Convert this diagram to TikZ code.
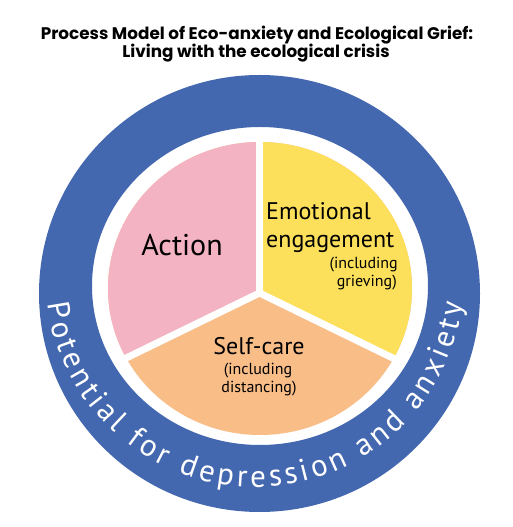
\documentclass[tikz,border=0pt]{standalone}
\usepackage{fontspec}
\setmainfont{PT Sans}
\newfontfamily\titlefont{Poppins}
\newfontfamily\labelfont{PT Sans}
\usetikzlibrary{decorations.text}
\definecolor{ringblue}{HTML}{4468AF}
\definecolor{pinkfill}{HTML}{F4B3C3}
\definecolor{yellowfill}{HTML}{FCE05B}
\definecolor{peachfill}{HTML}{F9BD88}
\tikzset{
  titletext/.style={font=\titlefont\bfseries\fontsize{16.8}{20}\selectfont, anchor=base, inner sep=0pt},
  bigtext/.style={font=\labelfont\fontsize{30}{34}\selectfont, inner sep=0pt},
  midtext/.style={font=\labelfont\fontsize{24}{28}\selectfont, inner sep=0pt},
  smalltext/.style={font=\labelfont\fontsize{16}{19}\selectfont, inner sep=0pt},
  gapline/.style={white, line width=7pt, line cap=round}
}
\begin{document}
\begin{tikzpicture}[x=1pt,y=1pt]
\useasboundingbox (0,0) rectangle (512,527);
\fill[white] (0,0) rectangle (512,527);
% title
\node[titletext] (t1) at (257,487) {Process Model of Eco-anxiety and Ecological Grief:};
\node[titletext] (t2) at (256,469) {Living with the ecological crisis};
% pie
\fill[peachfill] (260,238.5) ellipse [x radius=152pt, y radius=146.5pt];
\begin{scope}
  \clip (259.5,234) -- ([shift={(259.5,234)}]90:400) -- ([shift={(259.5,234)}]148:400) -- ([shift={(259.5,234)}]206:400) -- cycle;
  \fill[pinkfill] (260,238.5) ellipse [x radius=152pt, y radius=146.5pt];
\end{scope}
\begin{scope}
  \clip (259.5,234) -- ([shift={(259.5,234)}]90:400) -- ([shift={(259.5,234)}]32:400) -- ([shift={(259.5,234)}]-26:400) -- cycle;
  \fill[yellowfill] (260,238.5) ellipse [x radius=152pt, y radius=146.5pt];
\end{scope}
\coordinate (apex) at (259.5,234);
\coordinate (g1) at ([shift={(259.5,234)}]90:170);
\coordinate (g2) at ([shift={(259.5,234)}]206:170);
\coordinate (g3) at ([shift={(259.5,234)}]-26:170);
\draw[gapline] (apex) -- (g1);
\draw[gapline] (apex) -- (g2);
\draw[gapline] (apex) -- (g3);
% blue ring
\fill[ringblue, even odd rule] (259.5,233.5) ellipse [x radius=220.5pt, y radius=218.5pt]
  (260,241) ellipse [x radius=168pt, y radius=159pt];
% curved text
\path[decorate, decoration={text along path, text color=white,
   text={|\labelfont\fontsize{31}{36}\selectfont|Potential for depression and anxiety},
   text align=fit to path}]
   ([shift={(255,249)}]187:209) arc[start angle=187, end angle=353, radius=209pt];
% labels
\node[bigtext, anchor=base] (action) at (182,271) {Action};
\node[midtext, anchor=base west] (emo1) at (266,307) {Emotional};
\node[midtext, anchor=base west] (emo2) at (266,279) {engagement};
\node[smalltext, anchor=base east] (emo3) at (398,258) {(including};
\node[smalltext, anchor=base east] (emo4) at (397,240) {grieving)};
\node[midtext, anchor=base] (self1) at (259,172) {Self-care};
\node[smalltext, anchor=base] (self2) at (258,152) {(including};
\node[smalltext, anchor=base] (self3) at (259,134) {distancing)};
\end{tikzpicture}
\end{document}
